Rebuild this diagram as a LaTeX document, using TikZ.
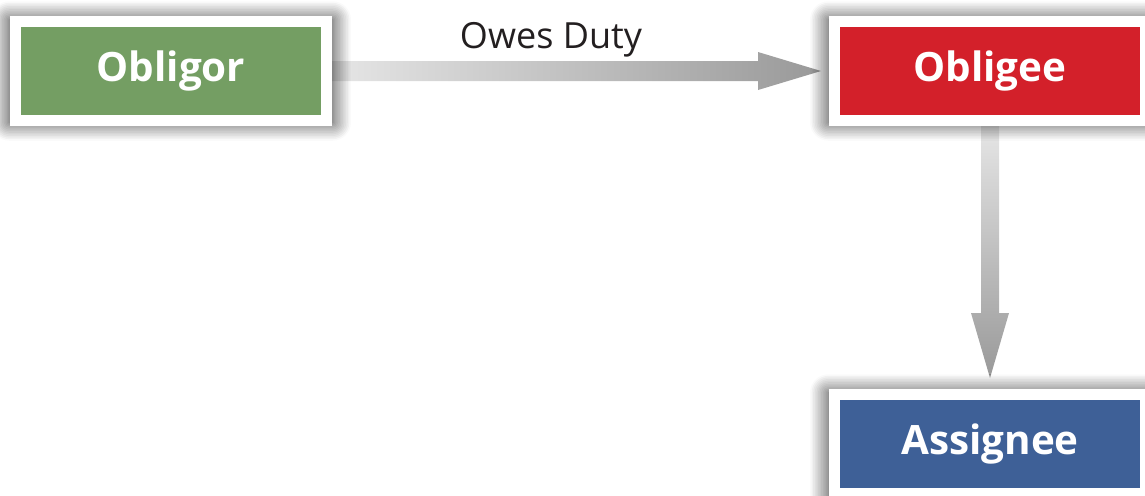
\documentclass[tikz,border=0pt]{standalone}
\usepackage{fontspec}
\setmainfont{Open Sans}
\usetikzlibrary{calc,shadows.blur,backgrounds}

\definecolor{obligorgreen}{RGB}{116,158,99}
\definecolor{obligeered}{RGB}{211,32,42}
\definecolor{assigneeblue}{RGB}{62,96,151}
\definecolor{dutytext}{RGB}{35,31,32}

\tikzset{
  party/.style={rectangle, draw=white, line width=11*0.02cm, minimum width=311*0.02cm,
    minimum height=99*0.02cm, text=white, font=\bfseries\fontsize{23}{28}\selectfont,
    blur shadow={shadow xshift=0pt, shadow yshift=0pt, shadow scale=1.04,
      shadow blur radius=10pt, shadow blur steps=12, shadow opacity=85}},
}

\begin{document}
\begin{tikzpicture}[x=0.02cm, y=-0.02cm]
    \useasboundingbox (0,0) rectangle (1145,495);
    \node [party, fill=obligorgreen] (obligor) at (171,71) {Obligor};
    \node [party, fill=obligeered] (obligee) at (990,71) {Obligee};
    \node [party, fill=assigneeblue] (assignee) at (990,444) {Assignee};
    \coordinate (htip) at ($(obligee.west)+(-8,0)$);
    \coordinate (vtip) at ($(assignee.north)+(0,-11)$);
    \begin{scope}[on background layer]
      \shade [left color=gray!20, right color=gray!80]
        ($(obligor.east)+(0,-10)$) -- ($(htip)+(-63,-10)$) -- ($(htip)+(-63,-19)$) -- (htip)
        -- ($(htip)+(-63,19)$) -- ($(htip)+(-63,10)$) -- ($(obligor.east)+(0,10)$) -- cycle;
      \shade [top color=gray!20, bottom color=gray!80]
        ($(obligee.south)+(-9,0)$) -- ($(vtip)+(-9,-65)$) -- ($(vtip)+(-19,-65)$) -- (vtip)
        -- ($(vtip)+(19,-65)$) -- ($(vtip)+(9,-65)$) -- ($(obligee.south)+(9,0)$) -- cycle;
    \end{scope}
    \node [anchor=base, text=dutytext, font=\fontsize{20.5}{24}\selectfont] (duty) at (551,48) {Owes Duty};
\end{tikzpicture}
\end{document}
